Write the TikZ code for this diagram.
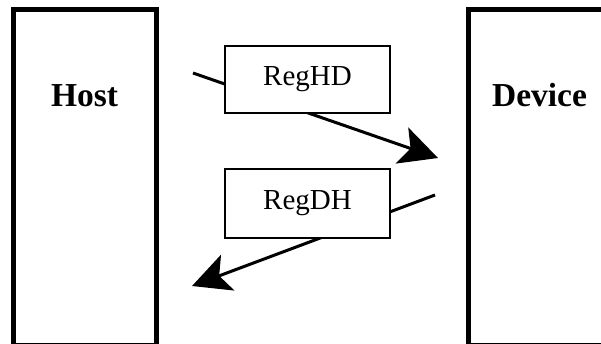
\documentclass[tikz,border=0pt]{standalone}
\usepackage{fontspec}
\setmainfont{Liberation Serif}
\usetikzlibrary{arrows.meta}
\tikzset{
  side/.style={draw, line width=5pt, fill=none},
  sidelabel/.style={font=\fontsize{33.5}{36}\selectfont\bfseries, anchor=base, inner sep=0pt},
  regbox/.style={draw, line width=2pt, fill=white, minimum width=165pt, inner sep=0pt, font=\fontsize{29}{32}\selectfont},
  flow/.style={line width=3pt, -{Stealth[length=38pt, width=38pt, inset=9pt]}}
}
\begin{document}
\begin{tikzpicture}[x=1pt, y=-1pt]
\useasboundingbox (0,0) rectangle (601,343);
% side boxes
\draw[side] (13.5,9.5) rectangle (156.5,345);
\draw[side] (468,9.5) rectangle (612,345);
\node[sidelabel] (host) at (84.5,106) {Host};
\node[sidelabel] (device) at (539.5,106) {Device};
% connectors
\coordinate (a1s) at (193,73);
\coordinate (a1e) at (438,158);
\coordinate (a2s) at (435,195);
\coordinate (a2e) at (192,286);
\draw[flow] (a1s) -- (a1e);
\draw[flow] (a2s) -- (a2e);
% register boxes
\node[regbox, minimum height=67pt] (reghd) at (307.5,79.5) {RegHD};
\node[regbox, minimum height=69pt] (regdh) at (307.5,203.5) {RegDH};
\end{tikzpicture}
\end{document}
